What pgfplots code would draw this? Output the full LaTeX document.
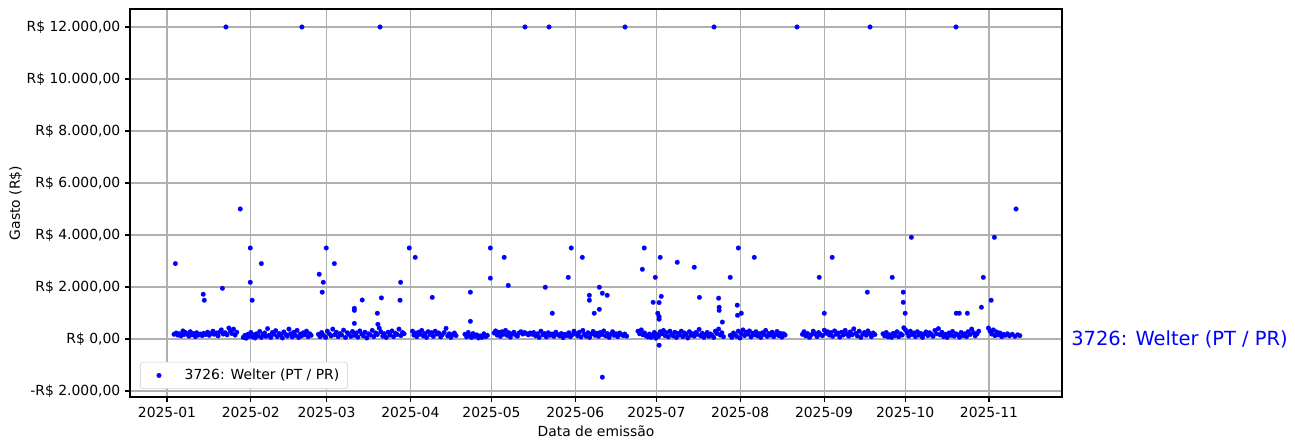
\documentclass[border=0pt]{standalone}
\usepackage{fontspec}
\setmainfont{DejaVu Sans}
\usepackage{pgfplots}
\pgfplotsset{compat=1.18}
\definecolor{gridgray}{HTML}{B0B0B0}
\definecolor{legedge}{HTML}{CCCCCC}

\begin{document}
\begin{tikzpicture}
\begin{axis}[
  at={(0,0)}, anchor=south west,
  scale only axis,
  width=671.04pt, height=279.36pt,
  xmin=-13.68, xmax=331.0,
  ymin=-2231, ymax=12692,
  clip=false,
  xtick={0,31,59,90,120,151,181,212,243,273,304},
  xticklabels={2025-01,2025-02,2025-03,2025-04,2025-05,2025-06,2025-07,2025-08,2025-09,2025-10,2025-11},
  ytick={-2000,0,2000,4000,6000,8000,10000,12000},
  yticklabels={{-R\$ 2.000,00},{R\$ 0,00},{R\$ 2.000,00},{R\$ 4.000,00},{R\$ 6.000,00},{R\$ 8.000,00},{R\$ 10.000,00},{R\$ 12.000,00}},
  tick label style={font=\fontsize{10}{12}\selectfont},
  label style={font=\fontsize{10}{12}\selectfont},
  xlabel={Data de emissão},
  ylabel={Gasto (R\$)},
  ylabel shift=-3.5pt,
  xlabel shift=-1pt,
  grid=major,
  major grid style={draw=gridgray, line width=0.8pt},
  axis line style={line width=0.8pt},
  tick style={black, line width=0.8pt},
  major tick length=3.5pt,
  tick align=outside,
  tick pos=left,
  legend style={at={(0.0107,0.0206)}, anchor=south west, draw=legedge, rounded corners=2pt,
    font=\fontsize{10}{12}\selectfont, inner xsep=4pt, inner ysep=3pt,
    /tikz/every odd column/.append style={column sep=6pt}},
  legend cell align=left,
  legend image code/.code={
    \path[draw=none] (0pt,0pt) -- (20pt,0pt);
    \draw[only marks, mark=*] plot coordinates {(9.5pt,0pt)};
  },
]
\addplot[blue, only marks, mark=*, mark size=1.7pt, mark options={fill=blue, draw=blue, line width=0.1pt}] coordinates {
(21.8,12000)(49.9,12000)(78.8,12000)(132.4,12000)(141.3,12000)(169.4,12000)(202.3,12000)(233.0,12000)(260.0,12000)(291.8,12000)
(27.1,5000)(314.0,5000)
(3.1,2900)(13.4,1720)(13.8,1490)(20.5,1950)(30.8,3500)(30.8,2180)(31.5,1490)(34.9,2900)
(56.3,2490)(57.8,2180)(57.4,1800)(58.9,3500)(61.9,2900)(69.3,1180)(69.3,1100)(69.3,600)(72.2,1500)
(79.3,1580)(77.8,990)(78.0,565)(86.4,2180)(86.2,1490)(89.6,3500)(91.8,3140)(98.1,1600)
(112.2,1800)(112.2,680)(119.6,3500)(119.6,2340)(124.7,3140)(126.2,2060)(139.9,1990)(142.5,990)
(148.4,2370)(149.5,3500)(153.6,3140)(156.2,1680)(156.2,1490)(158.0,990)(159.9,1140)(159.9,1990)
(161.0,1760)(162.8,1680)(161.0,-1470)
(175.8,2680)(176.5,3500)(180.6,2370)(179.8,1410)(182.0,1400)(181.5,990)(182.0,860)(182.0,760)
(182.8,1640)(182.4,3140)(182.0,-240)(188.7,2950)(195.0,2760)(196.9,1600)
(204.0,1570)(204.2,1220)(204.2,1100)(205.4,650)(208.3,2370)(211.3,3500)(210.9,1300)(211.0,910)(212.4,990)(217.2,3140)
(241.2,2370)(243.1,990)(246.0,3140)(259.0,1800)(268.2,2370)(272.3,1800)(272.3,1410)(273.0,990)(275.3,3910)
(291.9,990)(293.0,990)(296.0,990)(301.2,1220)(301.9,2370)(304.8,1490)(306.0,3910)
(2.6,180)(3.4,230)(4.0,150)(4.6,200)(5.2,120)(5.9,310)(6.3,170)(6.8,250)(7.5,190)(8.1,110)(8.6,280)(9.2,160)(9.8,210)(10.5,90)(11.0,240)(11.6,150)(12.3,190)(13.0,130)(13.6,220)(14.2,170)(15.0,260)(15.6,140)(16.2,200)(17.0,300)(17.5,180)(18.3,230)(18.9,120)(19.5,270)(20.1,350)(20.8,190)(21.5,240)(22.2,160)(22.9,420)(23.4,300)(24.0,210)(24.6,380)(25.2,150)(25.8,260)
(28.2,60)(28.8,140)(29.3,30)(29.9,180)(30.4,100)(31.0,250)(31.6,80)(32.2,160)(32.6,40)(33.1,200)(33.7,120)(34.3,290)(34.9,60)(35.5,170)(36.1,230)(36.6,100)(37.2,400)(37.8,140)(38.4,60)(39.0,250)(39.6,180)(40.2,320)(40.8,90)(41.5,210)(42.1,150)(42.7,40)(43.2,270)(43.9,180)(44.5,110)(45.1,380)(45.7,200)(46.3,80)(46.9,260)(47.5,140)(48.1,330)(48.7,60)(49.3,190)(49.8,120)(50.4,240)(51.0,160)(51.6,300)(52.2,90)(52.8,200)(53.3,140)
(56.0,180)(56.6,90)(57.2,250)(58.0,140)(58.7,60)(59.3,300)(60.0,200)(60.7,120)(61.3,380)(62.0,160)(62.6,260)(63.3,90)(64.0,210)(64.6,150)(65.3,340)(66.0,60)(66.7,240)(67.3,180)(68.0,100)(68.6,290)(69.3,140)(70.0,230)(70.6,70)(71.3,310)(72.0,190)(72.6,120)(73.2,260)(73.9,40)(74.5,200)(75.2,150)(75.9,330)(76.5,90)(77.2,230)(77.8,170)(78.5,420)(79.1,280)(79.8,110)(80.4,200)(81.1,60)(81.8,260)(82.5,150)(83.2,310)(83.8,90)(84.5,220)(85.1,170)(85.8,380)(86.5,130)(87.1,250)(87.7,200)
(90.8,300)(91.3,150)(91.8,220)(92.4,90)(93.0,260)(93.6,180)(94.2,330)(94.8,120)(95.4,210)(96.0,60)(96.6,280)(97.3,170)(97.9,240)(98.5,100)(99.2,300)(99.8,190)(100.5,230)(101.2,80)(101.8,160)(102.5,250)(103.2,410)(103.8,120)(104.4,200)(105.0,60)(105.7,170)(106.3,230)(106.9,130)
(110.2,180)(110.8,80)(111.4,250)(112.0,130)(112.6,60)(113.2,210)(113.8,100)(114.5,160)(115.2,40)(115.8,120)(116.5,60)(117.2,200)(117.9,90)(118.5,140)
(121.0,230)(121.5,310)(122.1,150)(122.7,260)(123.3,100)(123.9,280)(124.5,180)(125.2,330)(125.8,140)(126.4,240)(127.0,70)(127.7,200)(128.3,260)(128.9,150)(129.6,110)(130.2,230)(130.9,280)(131.6,190)(132.2,250)(132.9,210)(133.6,160)(134.3,230)(135.0,180)(135.6,250)(136.3,120)(137.0,200)(137.6,60)(138.3,300)(139.0,160)(139.6,210)(140.3,80)(141.0,240)(141.7,140)(142.4,190)(143.1,100)(143.8,260)(144.5,170)(145.2,120)(145.8,210)(146.5,50)(147.2,180)(147.9,130)(148.6,240)(149.2,90)(149.9,160)(150.5,300)
(151.3,200)(151.9,120)(152.5,260)(153.1,80)(153.8,330)(154.4,180)(155.0,110)(155.7,240)(156.3,60)(157.0,190)(157.6,290)(158.3,140)(158.9,220)(159.6,100)(160.2,250)(160.9,170)(161.5,310)(162.2,120)(162.8,210)(163.5,60)(164.1,180)(164.8,280)(165.4,140)(166.1,200)(166.7,90)(167.4,230)(168.0,170)(168.7,130)(169.3,190)(170.0,110)
(174.2,300)(174.8,200)(175.4,350)(176.0,160)(176.6,230)(177.2,120)(177.8,80)(178.4,190)(179.0,60)(179.6,140)(180.2,250)(180.8,30)(181.3,170)(181.8,100)(182.4,280)(183.0,200)(183.6,330)(184.2,130)(184.8,240)(185.4,80)(186.0,300)(186.6,180)(187.2,120)(187.8,260)(188.4,60)(189.0,210)(189.6,150)(190.2,300)(190.8,90)(191.4,230)(192.0,170)(192.6,40)(193.2,280)(193.8,140)(194.4,200)(195.0,110)(195.6,250)(196.2,180)(196.8,370)(197.4,120)(198.0,220)(198.6,60)(199.2,160)(199.8,250)(200.4,100)(201.0,190)(201.6,140)(202.2,60)(202.8,300)(203.4,210)(204.0,380)(204.6,150)(205.2,240)(205.8,90)
(208.3,140)(208.9,60)(209.5,230)(210.1,170)(210.7,100)(211.3,300)(211.9,40)(212.4,200)(213.0,350)(213.6,130)(214.2,260)(214.8,190)(215.4,310)(216.0,80)(216.6,220)(217.2,160)(217.8,280)(218.4,120)(219.0,200)(219.6,60)(220.2,240)(220.8,170)(221.4,330)(222.0,100)(222.6,210)(223.2,150)(223.8,260)(224.4,90)(225.0,180)(225.6,290)(226.2,130)(226.8,220)(227.4,70)(228.0,200)(228.6,150)
(235.0,180)(235.6,280)(236.2,120)(236.9,210)(237.6,60)(238.3,160)(239.0,300)(239.7,200)(240.4,90)(241.0,250)(241.7,170)(242.4,130)(243.1,340)(243.7,220)(244.3,280)(245.0,150)(245.6,250)(246.2,100)(246.9,310)(247.5,180)(248.2,230)(248.8,70)(249.5,260)(250.1,150)(250.8,330)(251.4,200)(252.1,110)(252.7,270)(253.4,160)(254.0,390)(254.7,220)(255.3,120)(256.0,300)(256.6,60)(257.3,180)(257.9,250)(258.6,140)(259.2,310)(259.9,210)(260.5,90)(261.2,230)(261.8,170)
(264.8,200)(265.4,120)(266.0,250)(266.7,80)(267.3,160)(268.0,60)(268.6,220)(269.3,130)(270.0,280)(270.6,90)(271.3,200)(271.9,150)(272.5,430)(273.1,350)(273.7,240)(274.3,110)(274.9,300)(275.5,170)(276.2,230)(276.8,90)(277.5,280)(278.1,150)(278.8,210)(279.4,60)(280.1,190)(280.7,270)(281.4,130)(282.0,240)(282.7,180)(283.3,100)(284.0,330)(284.6,200)(285.3,400)(285.9,160)(286.6,260)(287.2,90)(287.9,180)(288.5,60)(289.2,230)(289.8,140)(290.5,290)(291.1,110)(291.8,200)(292.4,160)(293.1,70)(293.7,250)(294.4,130)(295.0,200)(295.7,90)(296.3,280)(297.0,170)(297.6,380)(298.3,240)(298.9,120)(299.6,200)(300.2,300)
(303.8,420)(304.4,300)(305.0,190)(305.6,350)(306.2,130)(306.8,270)(307.4,160)(308.0,230)(308.7,90)(309.3,180)(310.0,140)(310.8,200)(311.6,120)(312.6,180)(313.6,100)(314.6,160)(315.4,130)
};
\addlegendentry{3726: Welter (PT / PR)}
\node[anchor=west, inner sep=0pt, text=blue, font=\fontsize{14}{16}\selectfont]
  at ([xshift=6.5pt]axis cs:331.0,0) {3726: Welter (PT / PR)};
\end{axis}
\pgfresetboundingbox
\path[use as bounding box] (-93.6pt,-36.72pt) rectangle (838.8pt,285.84pt);
\end{tikzpicture}
\end{document}
